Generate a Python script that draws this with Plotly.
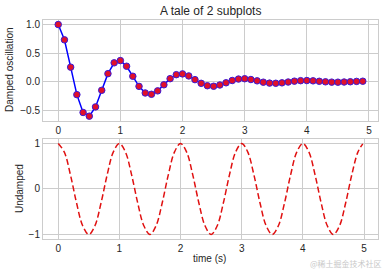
import plotly.graph_objects as go

# Top subplot: damped oscillation, sampled every 0.1 s
t1 = [0.0, 0.1, 0.2, 0.3, 0.4, 0.5, 0.6, 0.7, 0.8, 0.9,
      1.0, 1.1, 1.2, 1.3, 1.4, 1.5, 1.6, 1.7, 1.8, 1.9,
      2.0, 2.1, 2.2, 2.3, 2.4, 2.5, 2.6, 2.7, 2.8, 2.9,
      3.0, 3.1, 3.2, 3.3, 3.4, 3.5, 3.6, 3.7, 3.8, 3.9,
      4.0, 4.1, 4.2, 4.3, 4.4, 4.5, 4.6, 4.7, 4.8, 4.9]
damped = [1.0, 0.732, 0.253, -0.229, -0.542, -0.607, -0.444, -0.153, 0.139, 0.329,
          0.368, 0.269, 0.093, -0.084, -0.200, -0.223, -0.163, -0.056, 0.051, 0.121,
          0.135, 0.099, 0.034, -0.031, -0.073, -0.082, -0.060, -0.021, 0.019, 0.044,
          0.050, 0.036, 0.013, -0.011, -0.027, -0.030, -0.022, -0.008, 0.007, 0.016,
          0.018, 0.013, 0.005, -0.004, -0.010, -0.011, -0.008, -0.003, 0.003, 0.006]

# Bottom subplot: undamped oscillation
t2 = [0.0, 0.1, 0.2, 0.3, 0.4, 0.5, 0.6, 0.7, 0.8, 0.9,
      1.0, 1.1, 1.2, 1.3, 1.4, 1.5, 1.6, 1.7, 1.8, 1.9,
      2.0, 2.1, 2.2, 2.3, 2.4, 2.5, 2.6, 2.7, 2.8, 2.9,
      3.0, 3.1, 3.2, 3.3, 3.4, 3.5, 3.6, 3.7, 3.8, 3.9,
      4.0, 4.1, 4.2, 4.3, 4.4, 4.5, 4.6, 4.7, 4.8, 4.9, 4.98]
undamped = [1.0, 0.809, 0.309, -0.309, -0.809, -1.0, -0.809, -0.309, 0.309, 0.809,
            1.0, 0.809, 0.309, -0.309, -0.809, -1.0, -0.809, -0.309, 0.309, 0.809,
            1.0, 0.809, 0.309, -0.309, -0.809, -1.0, -0.809, -0.309, 0.309, 0.809,
            1.0, 0.809, 0.309, -0.309, -0.809, -1.0, -0.809, -0.309, 0.309, 0.809,
            1.0, 0.809, 0.309, -0.309, -0.809, -1.0, -0.809, -0.309, 0.309, 0.809, 0.992]

x_ticks = [0, 1, 2, 3, 4, 5]
y1_ticks = [-0.5, 0.0, 0.5, 1.0]
y2_ticks = [-1, 0, 1]

FONT = "Liberation Sans, Arial, sans-serif"
TXT = "#262626"
GRID = "#cccccc"

fig = go.Figure()
fig.add_trace(go.Scatter(
    x=t1, y=damped, mode="lines+markers", xaxis="x", yaxis="y",
    line=dict(color="blue", width=1.5),
    marker=dict(color="#e0102a", size=6.5, line=dict(color="#3a1ad8", width=1)),
))
fig.add_trace(go.Scatter(
    x=t2, y=undamped, mode="lines", xaxis="x2", yaxis="y2",
    line=dict(color="#e01010", width=1.5, dash="6px,3px", shape="spline"),
))

axis_common = dict(showgrid=True, gridcolor=GRID, gridwidth=1, zeroline=False,
                   showline=True, linecolor=GRID, linewidth=1, mirror=True,
                   ticks="", tickfont=dict(family=FONT, size=10, color=TXT))

fig.update_layout(
    width=385, height=271,
    margin=dict(l=43, r=7, t=20, b=32),
    paper_bgcolor="white", plot_bgcolor="white",
    showlegend=False,
    xaxis=dict(domain=[0, 1], anchor="y", range=[-0.245, 5.145],
               tickvals=x_ticks, **axis_common),
    yaxis=dict(domain=[0.54, 1.0], anchor="x", range=[-0.687, 1.08],
               tickvals=y1_ticks, tickformat=".1f", **axis_common),
    xaxis2=dict(domain=[0, 1], anchor="y2", range=[-0.249, 5.229],
                tickvals=x_ticks, **axis_common),
    yaxis2=dict(domain=[0, 0.457], anchor="x2", range=[-1.1, 1.1],
                tickvals=y2_ticks, **axis_common),
    annotations=[
        dict(text="A tale of 2 subplots", xref="paper", yref="paper", x=0.5, y=1.041,
             xanchor="center", yanchor="middle", showarrow=False,
             font=dict(family=FONT, size=12, color=TXT)),
        dict(text="Damped oscillation", xref="paper", yref="paper", x=-0.0985, y=0.772,
             xanchor="center", yanchor="middle", showarrow=False, textangle=-90,
             font=dict(family=FONT, size=10, color=TXT)),
        dict(text="Undamped", xref="paper", yref="paper", x=-0.0716, y=0.228,
             xanchor="center", yanchor="middle", showarrow=False, textangle=-90,
             font=dict(family=FONT, size=10, color=TXT)),
        dict(text="time (s)", xref="paper", yref="paper", x=0.4985, y=-0.0868,
             xanchor="center", yanchor="middle", showarrow=False,
             font=dict(family=FONT, size=10, color=TXT)),
        dict(text="@稀土掘金技术社区", xref="paper", yref="paper", x=1.018, y=-0.1096,
             xanchor="right", yanchor="middle", showarrow=False,
             font=dict(family="Noto Sans CJK SC", size=8, color="#c8c8c8")),
    ],
)

fig.write_html("out.html")
